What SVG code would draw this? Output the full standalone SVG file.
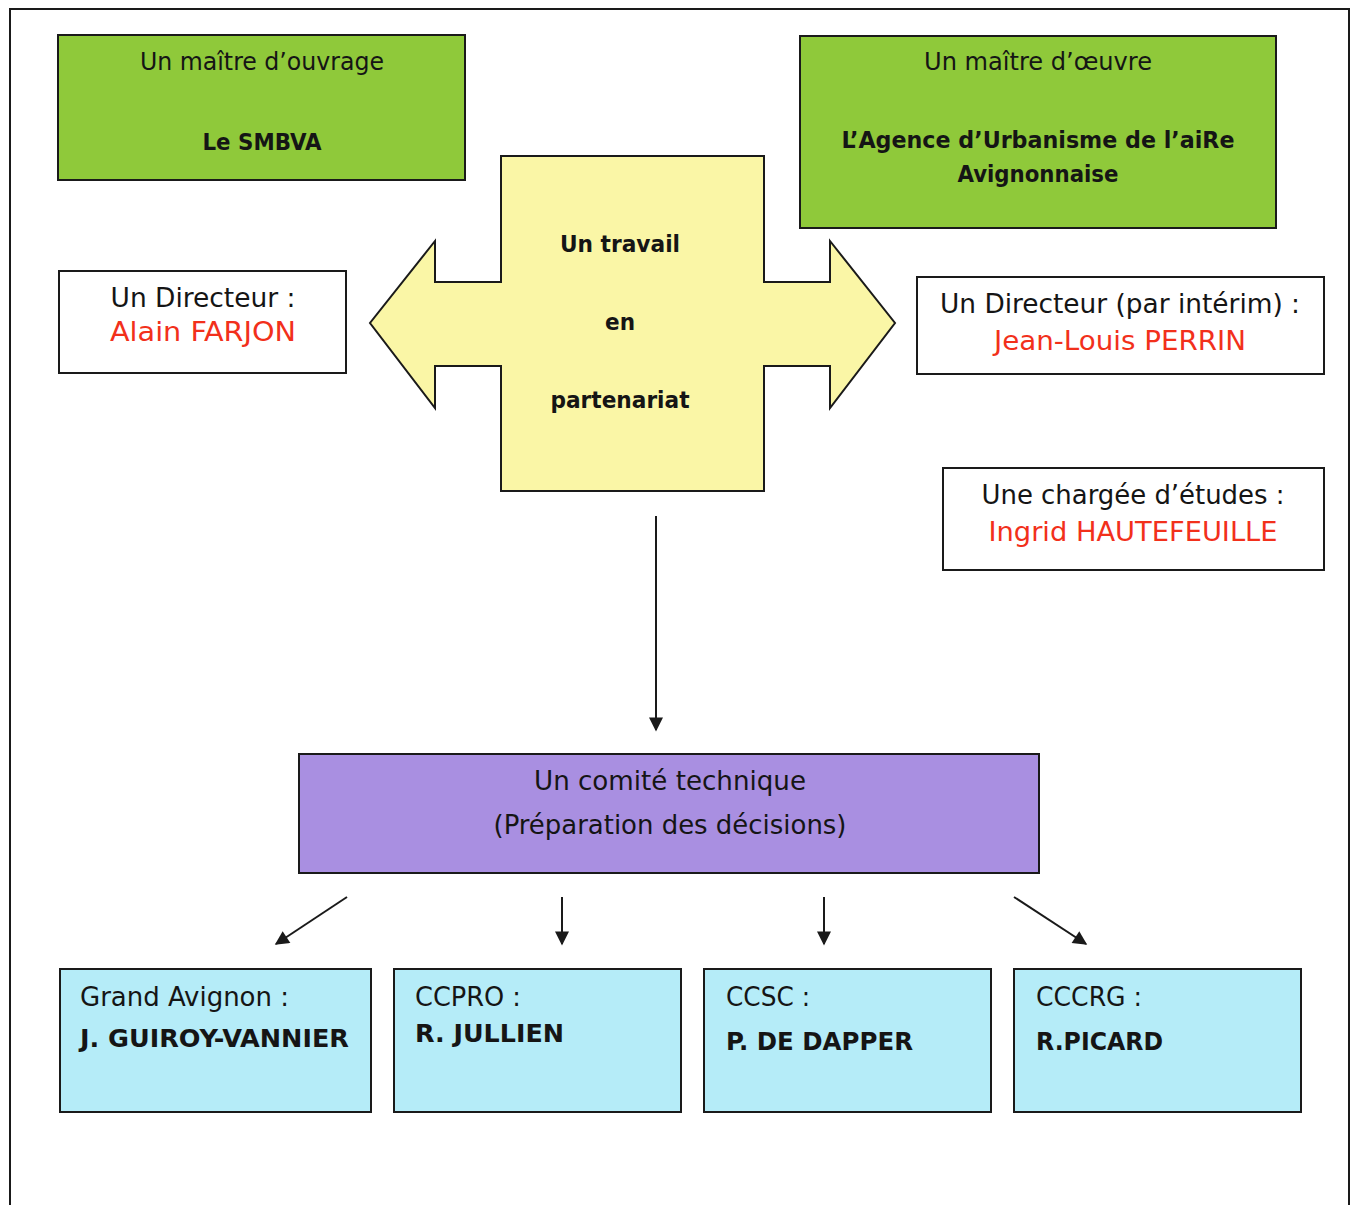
<svg xmlns="http://www.w3.org/2000/svg" width="1355" height="1205" viewBox="0 0 1355 1205">
<defs>
<style>
text{font-family:"DejaVu Sans Condensed","DejaVu Sans",sans-serif;fill:#151515}
.c{text-anchor:middle}
.b{font-weight:bold}
.red{fill:#f2301b}
.box{stroke:#1a1a1a;stroke-width:2}
.green{fill:#8fc93a}
.white{fill:#ffffff}
.blue{fill:#b5ecf8}
.conn{stroke:#1a1a1a;stroke-width:2;fill:none}
</style>
<marker id="ah" viewBox="0 0 10 10" refX="9" refY="5" markerWidth="8" markerHeight="8" markerUnits="userSpaceOnUse" orient="auto">
<path d="M0,0 L10,5 L0,10 z" fill="#1a1a1a"/>
</marker>
<marker id="ah2" viewBox="0 0 10 10" refX="9" refY="5" markerWidth="16" markerHeight="14" markerUnits="userSpaceOnUse" orient="auto">
<path d="M0,0 L10,5 L0,10 z" fill="#1a1a1a"/>
</marker>
</defs>
<rect x="0" y="0" width="1355" height="1205" fill="#ffffff"/>
<rect x="10" y="9" width="1339" height="1210" fill="none" stroke="#1a1a1a" stroke-width="2"/>

<g id="moa">
<rect class="box green" x="58" y="35" width="407" height="145"/>
<text class="c" x="262" y="70" font-size="24" textLength="244" lengthAdjust="spacingAndGlyphs">Un maître d’ouvrage</text>
<text class="c b" x="262" y="150" font-size="23" textLength="119" lengthAdjust="spacingAndGlyphs">Le SMBVA</text>
</g>

<g id="moe">
<rect class="box green" x="800" y="36" width="476" height="192"/>
<text class="c" x="1038" y="70" font-size="24" textLength="228" lengthAdjust="spacingAndGlyphs">Un maître d’œuvre</text>
<text class="c b" x="1038" y="148" font-size="23" textLength="393" lengthAdjust="spacingAndGlyphs">L’Agence d’Urbanisme de l’aiRe</text>
<text class="c b" x="1038" y="182" font-size="23" textLength="161" lengthAdjust="spacingAndGlyphs">Avignonnaise</text>
</g>

<g id="partenariat">
<path class="box" fill="#faf6a6" d="M501,156 L764,156 L764,282 L830,282 L830,241 L895,323 L830,408 L830,366 L764,366 L764,491 L501,491 L501,366 L435,366 L435,408 L370,323 L435,241 L435,282 L501,282 Z"/>
<text class="c b" x="620" y="252" font-size="23" textLength="120" lengthAdjust="spacingAndGlyphs">Un travail</text>
<text class="c b" x="620" y="330" font-size="23" textLength="30" lengthAdjust="spacingAndGlyphs">en</text>
<text class="c b" x="620" y="408" font-size="23" textLength="139" lengthAdjust="spacingAndGlyphs">partenariat</text>
</g>

<g id="directeur-smbva">
<rect class="box white" x="59" y="271" width="287" height="102"/>
<text class="c" x="203" y="307" font-size="26" textLength="185" lengthAdjust="spacingAndGlyphs">Un Directeur :</text>
<text class="c red" x="203" y="341" font-size="26" textLength="186" lengthAdjust="spacingAndGlyphs">Alain FARJON</text>
</g>

<g id="directeur-aurav">
<rect class="box white" x="917" y="277" width="407" height="97"/>
<text class="c" x="1120" y="313" font-size="26" textLength="360" lengthAdjust="spacingAndGlyphs">Un Directeur (par intérim) :</text>
<text class="c red" x="1120" y="350" font-size="26" textLength="252" lengthAdjust="spacingAndGlyphs">Jean-Louis PERRIN</text>
</g>

<g id="chargee">
<rect class="box white" x="943" y="468" width="381" height="102"/>
<text class="c" x="1133" y="504" font-size="26" textLength="303" lengthAdjust="spacingAndGlyphs">Une chargée d’études :</text>
<text class="c red" x="1133" y="541" font-size="26" textLength="289" lengthAdjust="spacingAndGlyphs">Ingrid HAUTEFEUILLE</text>
</g>

<g id="comite">
<rect class="box" fill="#a98fe1" x="299" y="754" width="740" height="119"/>
<text class="c" x="670" y="790" font-size="27" textLength="272" lengthAdjust="spacingAndGlyphs">Un comité technique</text>
<text class="c" x="670" y="834" font-size="27" textLength="353" lengthAdjust="spacingAndGlyphs">(Préparation des décisions)</text>
</g>

<g id="grand-avignon">
<rect class="box blue" x="60" y="969" width="311" height="143"/>
<text x="80" y="1006" font-size="26" textLength="209" lengthAdjust="spacingAndGlyphs">Grand Avignon :</text>
<text class="b" x="80" y="1047" font-size="25" textLength="269" lengthAdjust="spacingAndGlyphs">J. GUIROY-VANNIER</text>
</g>

<g id="ccpro">
<rect class="box blue" x="394" y="969" width="287" height="143"/>
<text x="415" y="1006" font-size="26" textLength="106" lengthAdjust="spacingAndGlyphs">CCPRO :</text>
<text class="b" x="415" y="1042" font-size="25" textLength="149" lengthAdjust="spacingAndGlyphs">R. JULLIEN</text>
</g>

<g id="ccsc">
<rect class="box blue" x="704" y="969" width="287" height="143"/>
<text x="726" y="1006" font-size="26" textLength="84" lengthAdjust="spacingAndGlyphs">CCSC :</text>
<text class="b" x="726" y="1050" font-size="25" textLength="187" lengthAdjust="spacingAndGlyphs">P. DE DAPPER</text>
</g>

<g id="cccrg">
<rect class="box blue" x="1014" y="969" width="287" height="143"/>
<text x="1036" y="1006" font-size="26" textLength="106" lengthAdjust="spacingAndGlyphs">CCCRG :</text>
<text class="b" x="1036" y="1050" font-size="25" textLength="127" lengthAdjust="spacingAndGlyphs">R.PICARD</text>
</g>

<g id="connectors">
<line class="conn" x1="656" y1="516" x2="656" y2="730" marker-end="url(#ah2)"/>
<line class="conn" x1="347" y1="897" x2="276" y2="944" marker-end="url(#ah2)"/>
<line class="conn" x1="562" y1="897" x2="562" y2="944" marker-end="url(#ah2)"/>
<line class="conn" x1="824" y1="897" x2="824" y2="944" marker-end="url(#ah2)"/>
<line class="conn" x1="1014" y1="897" x2="1086" y2="944" marker-end="url(#ah2)"/>
</g>
</svg>
